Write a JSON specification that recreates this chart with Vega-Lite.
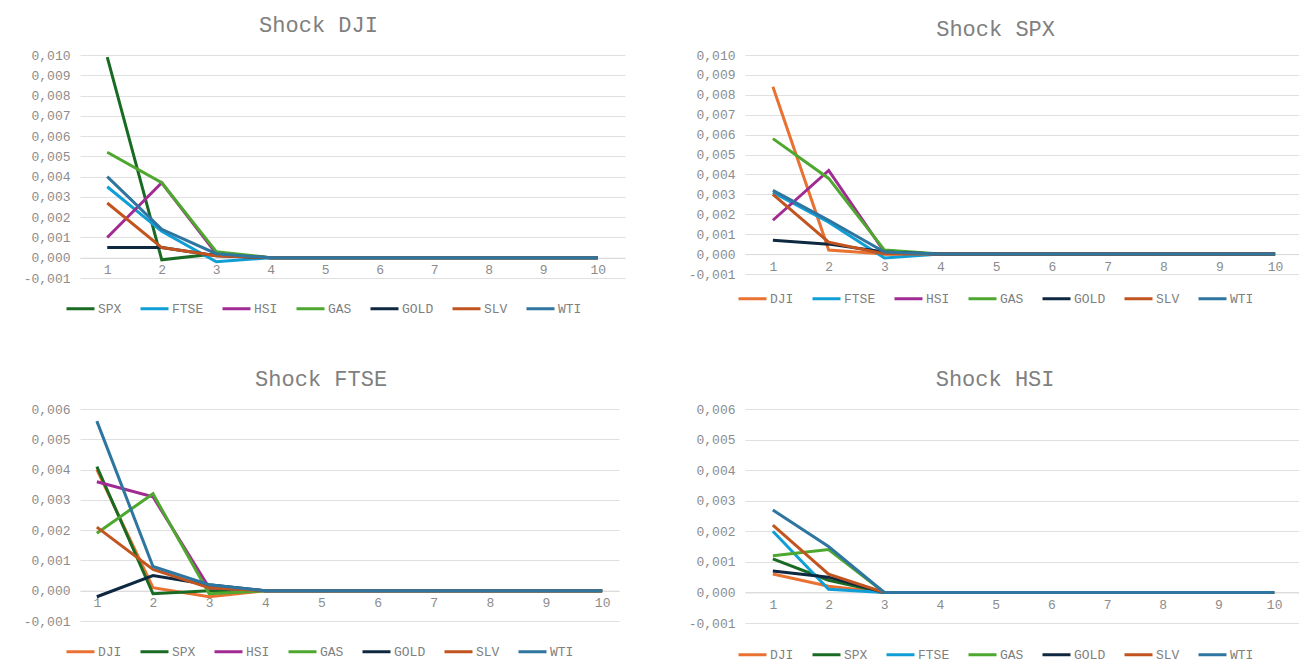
{
  "$schema": "https://vega.github.io/schema/vega-lite/v6.json",
  "background": "white",
  "padding": {"left": 12, "top": 14, "right": 0, "bottom": 0},
  "datasets": {
    "irf": [
      {"p":"DJI","s":"SPX","t":1,"v":0.0099},{"p":"DJI","s":"SPX","t":2,"v":-0.0001},{"p":"DJI","s":"SPX","t":3,"v":0.0002},{"p":"DJI","s":"SPX","t":4,"v":0},{"p":"DJI","s":"SPX","t":5,"v":0},{"p":"DJI","s":"SPX","t":6,"v":0},{"p":"DJI","s":"SPX","t":7,"v":0},{"p":"DJI","s":"SPX","t":8,"v":0},{"p":"DJI","s":"SPX","t":9,"v":0},{"p":"DJI","s":"SPX","t":10,"v":0},
      {"p":"DJI","s":"FTSE","t":1,"v":0.0035},{"p":"DJI","s":"FTSE","t":2,"v":0.0013},{"p":"DJI","s":"FTSE","t":3,"v":-0.0002},{"p":"DJI","s":"FTSE","t":4,"v":0},{"p":"DJI","s":"FTSE","t":5,"v":0},{"p":"DJI","s":"FTSE","t":6,"v":0},{"p":"DJI","s":"FTSE","t":7,"v":0},{"p":"DJI","s":"FTSE","t":8,"v":0},{"p":"DJI","s":"FTSE","t":9,"v":0},{"p":"DJI","s":"FTSE","t":10,"v":0},
      {"p":"DJI","s":"HSI","t":1,"v":0.0010},{"p":"DJI","s":"HSI","t":2,"v":0.0037},{"p":"DJI","s":"HSI","t":3,"v":0.0002},{"p":"DJI","s":"HSI","t":4,"v":0},{"p":"DJI","s":"HSI","t":5,"v":0},{"p":"DJI","s":"HSI","t":6,"v":0},{"p":"DJI","s":"HSI","t":7,"v":0},{"p":"DJI","s":"HSI","t":8,"v":0},{"p":"DJI","s":"HSI","t":9,"v":0},{"p":"DJI","s":"HSI","t":10,"v":0},
      {"p":"DJI","s":"GAS","t":1,"v":0.0052},{"p":"DJI","s":"GAS","t":2,"v":0.0037},{"p":"DJI","s":"GAS","t":3,"v":0.0003},{"p":"DJI","s":"GAS","t":4,"v":0},{"p":"DJI","s":"GAS","t":5,"v":0},{"p":"DJI","s":"GAS","t":6,"v":0},{"p":"DJI","s":"GAS","t":7,"v":0},{"p":"DJI","s":"GAS","t":8,"v":0},{"p":"DJI","s":"GAS","t":9,"v":0},{"p":"DJI","s":"GAS","t":10,"v":0},
      {"p":"DJI","s":"GOLD","t":1,"v":0.0005},{"p":"DJI","s":"GOLD","t":2,"v":0.0005},{"p":"DJI","s":"GOLD","t":3,"v":0.0001},{"p":"DJI","s":"GOLD","t":4,"v":0},{"p":"DJI","s":"GOLD","t":5,"v":0},{"p":"DJI","s":"GOLD","t":6,"v":0},{"p":"DJI","s":"GOLD","t":7,"v":0},{"p":"DJI","s":"GOLD","t":8,"v":0},{"p":"DJI","s":"GOLD","t":9,"v":0},{"p":"DJI","s":"GOLD","t":10,"v":0},
      {"p":"DJI","s":"SLV","t":1,"v":0.0027},{"p":"DJI","s":"SLV","t":2,"v":0.0005},{"p":"DJI","s":"SLV","t":3,"v":0.0001},{"p":"DJI","s":"SLV","t":4,"v":0},{"p":"DJI","s":"SLV","t":5,"v":0},{"p":"DJI","s":"SLV","t":6,"v":0},{"p":"DJI","s":"SLV","t":7,"v":0},{"p":"DJI","s":"SLV","t":8,"v":0},{"p":"DJI","s":"SLV","t":9,"v":0},{"p":"DJI","s":"SLV","t":10,"v":0},
      {"p":"DJI","s":"WTI","t":1,"v":0.0040},{"p":"DJI","s":"WTI","t":2,"v":0.0014},{"p":"DJI","s":"WTI","t":3,"v":0.0002},{"p":"DJI","s":"WTI","t":4,"v":0},{"p":"DJI","s":"WTI","t":5,"v":0},{"p":"DJI","s":"WTI","t":6,"v":0},{"p":"DJI","s":"WTI","t":7,"v":0},{"p":"DJI","s":"WTI","t":8,"v":0},{"p":"DJI","s":"WTI","t":9,"v":0},{"p":"DJI","s":"WTI","t":10,"v":0},

      {"p":"SPX","s":"DJI","t":1,"v":0.0084},{"p":"SPX","s":"DJI","t":2,"v":0.0002},{"p":"SPX","s":"DJI","t":3,"v":0.0000},{"p":"SPX","s":"DJI","t":4,"v":0},{"p":"SPX","s":"DJI","t":5,"v":0},{"p":"SPX","s":"DJI","t":6,"v":0},{"p":"SPX","s":"DJI","t":7,"v":0},{"p":"SPX","s":"DJI","t":8,"v":0},{"p":"SPX","s":"DJI","t":9,"v":0},{"p":"SPX","s":"DJI","t":10,"v":0},
      {"p":"SPX","s":"FTSE","t":1,"v":0.0031},{"p":"SPX","s":"FTSE","t":2,"v":0.0016},{"p":"SPX","s":"FTSE","t":3,"v":-0.0002},{"p":"SPX","s":"FTSE","t":4,"v":0},{"p":"SPX","s":"FTSE","t":5,"v":0},{"p":"SPX","s":"FTSE","t":6,"v":0},{"p":"SPX","s":"FTSE","t":7,"v":0},{"p":"SPX","s":"FTSE","t":8,"v":0},{"p":"SPX","s":"FTSE","t":9,"v":0},{"p":"SPX","s":"FTSE","t":10,"v":0},
      {"p":"SPX","s":"HSI","t":1,"v":0.0017},{"p":"SPX","s":"HSI","t":2,"v":0.0042},{"p":"SPX","s":"HSI","t":3,"v":0.0001},{"p":"SPX","s":"HSI","t":4,"v":0},{"p":"SPX","s":"HSI","t":5,"v":0},{"p":"SPX","s":"HSI","t":6,"v":0},{"p":"SPX","s":"HSI","t":7,"v":0},{"p":"SPX","s":"HSI","t":8,"v":0},{"p":"SPX","s":"HSI","t":9,"v":0},{"p":"SPX","s":"HSI","t":10,"v":0},
      {"p":"SPX","s":"GAS","t":1,"v":0.0058},{"p":"SPX","s":"GAS","t":2,"v":0.0038},{"p":"SPX","s":"GAS","t":3,"v":0.0002},{"p":"SPX","s":"GAS","t":4,"v":0},{"p":"SPX","s":"GAS","t":5,"v":0},{"p":"SPX","s":"GAS","t":6,"v":0},{"p":"SPX","s":"GAS","t":7,"v":0},{"p":"SPX","s":"GAS","t":8,"v":0},{"p":"SPX","s":"GAS","t":9,"v":0},{"p":"SPX","s":"GAS","t":10,"v":0},
      {"p":"SPX","s":"GOLD","t":1,"v":0.0007},{"p":"SPX","s":"GOLD","t":2,"v":0.0005},{"p":"SPX","s":"GOLD","t":3,"v":0.0001},{"p":"SPX","s":"GOLD","t":4,"v":0},{"p":"SPX","s":"GOLD","t":5,"v":0},{"p":"SPX","s":"GOLD","t":6,"v":0},{"p":"SPX","s":"GOLD","t":7,"v":0},{"p":"SPX","s":"GOLD","t":8,"v":0},{"p":"SPX","s":"GOLD","t":9,"v":0},{"p":"SPX","s":"GOLD","t":10,"v":0},
      {"p":"SPX","s":"SLV","t":1,"v":0.0030},{"p":"SPX","s":"SLV","t":2,"v":0.0006},{"p":"SPX","s":"SLV","t":3,"v":0.0000},{"p":"SPX","s":"SLV","t":4,"v":0},{"p":"SPX","s":"SLV","t":5,"v":0},{"p":"SPX","s":"SLV","t":6,"v":0},{"p":"SPX","s":"SLV","t":7,"v":0},{"p":"SPX","s":"SLV","t":8,"v":0},{"p":"SPX","s":"SLV","t":9,"v":0},{"p":"SPX","s":"SLV","t":10,"v":0},
      {"p":"SPX","s":"WTI","t":1,"v":0.0032},{"p":"SPX","s":"WTI","t":2,"v":0.0017},{"p":"SPX","s":"WTI","t":3,"v":0.0001},{"p":"SPX","s":"WTI","t":4,"v":0},{"p":"SPX","s":"WTI","t":5,"v":0},{"p":"SPX","s":"WTI","t":6,"v":0},{"p":"SPX","s":"WTI","t":7,"v":0},{"p":"SPX","s":"WTI","t":8,"v":0},{"p":"SPX","s":"WTI","t":9,"v":0},{"p":"SPX","s":"WTI","t":10,"v":0},

      {"p":"FTSE","s":"DJI","t":1,"v":0.0040},{"p":"FTSE","s":"DJI","t":2,"v":0.0001},{"p":"FTSE","s":"DJI","t":3,"v":-0.0002},{"p":"FTSE","s":"DJI","t":4,"v":0},{"p":"FTSE","s":"DJI","t":5,"v":0},{"p":"FTSE","s":"DJI","t":6,"v":0},{"p":"FTSE","s":"DJI","t":7,"v":0},{"p":"FTSE","s":"DJI","t":8,"v":0},{"p":"FTSE","s":"DJI","t":9,"v":0},{"p":"FTSE","s":"DJI","t":10,"v":0},
      {"p":"FTSE","s":"SPX","t":1,"v":0.0041},{"p":"FTSE","s":"SPX","t":2,"v":-0.0001},{"p":"FTSE","s":"SPX","t":3,"v":0.0000},{"p":"FTSE","s":"SPX","t":4,"v":0},{"p":"FTSE","s":"SPX","t":5,"v":0},{"p":"FTSE","s":"SPX","t":6,"v":0},{"p":"FTSE","s":"SPX","t":7,"v":0},{"p":"FTSE","s":"SPX","t":8,"v":0},{"p":"FTSE","s":"SPX","t":9,"v":0},{"p":"FTSE","s":"SPX","t":10,"v":0},
      {"p":"FTSE","s":"HSI","t":1,"v":0.0036},{"p":"FTSE","s":"HSI","t":2,"v":0.0031},{"p":"FTSE","s":"HSI","t":3,"v":0.0001},{"p":"FTSE","s":"HSI","t":4,"v":0},{"p":"FTSE","s":"HSI","t":5,"v":0},{"p":"FTSE","s":"HSI","t":6,"v":0},{"p":"FTSE","s":"HSI","t":7,"v":0},{"p":"FTSE","s":"HSI","t":8,"v":0},{"p":"FTSE","s":"HSI","t":9,"v":0},{"p":"FTSE","s":"HSI","t":10,"v":0},
      {"p":"FTSE","s":"GAS","t":1,"v":0.0019},{"p":"FTSE","s":"GAS","t":2,"v":0.0032},{"p":"FTSE","s":"GAS","t":3,"v":-0.0001},{"p":"FTSE","s":"GAS","t":4,"v":0},{"p":"FTSE","s":"GAS","t":5,"v":0},{"p":"FTSE","s":"GAS","t":6,"v":0},{"p":"FTSE","s":"GAS","t":7,"v":0},{"p":"FTSE","s":"GAS","t":8,"v":0},{"p":"FTSE","s":"GAS","t":9,"v":0},{"p":"FTSE","s":"GAS","t":10,"v":0},
      {"p":"FTSE","s":"GOLD","t":1,"v":-0.0002},{"p":"FTSE","s":"GOLD","t":2,"v":0.0005},{"p":"FTSE","s":"GOLD","t":3,"v":0.0002},{"p":"FTSE","s":"GOLD","t":4,"v":0},{"p":"FTSE","s":"GOLD","t":5,"v":0},{"p":"FTSE","s":"GOLD","t":6,"v":0},{"p":"FTSE","s":"GOLD","t":7,"v":0},{"p":"FTSE","s":"GOLD","t":8,"v":0},{"p":"FTSE","s":"GOLD","t":9,"v":0},{"p":"FTSE","s":"GOLD","t":10,"v":0},
      {"p":"FTSE","s":"SLV","t":1,"v":0.0021},{"p":"FTSE","s":"SLV","t":2,"v":0.0007},{"p":"FTSE","s":"SLV","t":3,"v":0.0001},{"p":"FTSE","s":"SLV","t":4,"v":0},{"p":"FTSE","s":"SLV","t":5,"v":0},{"p":"FTSE","s":"SLV","t":6,"v":0},{"p":"FTSE","s":"SLV","t":7,"v":0},{"p":"FTSE","s":"SLV","t":8,"v":0},{"p":"FTSE","s":"SLV","t":9,"v":0},{"p":"FTSE","s":"SLV","t":10,"v":0},
      {"p":"FTSE","s":"WTI","t":1,"v":0.0056},{"p":"FTSE","s":"WTI","t":2,"v":0.0008},{"p":"FTSE","s":"WTI","t":3,"v":0.0002},{"p":"FTSE","s":"WTI","t":4,"v":0},{"p":"FTSE","s":"WTI","t":5,"v":0},{"p":"FTSE","s":"WTI","t":6,"v":0},{"p":"FTSE","s":"WTI","t":7,"v":0},{"p":"FTSE","s":"WTI","t":8,"v":0},{"p":"FTSE","s":"WTI","t":9,"v":0},{"p":"FTSE","s":"WTI","t":10,"v":0},

      {"p":"HSI","s":"DJI","t":1,"v":0.0006},{"p":"HSI","s":"DJI","t":2,"v":0.0002},{"p":"HSI","s":"DJI","t":3,"v":0.0000},{"p":"HSI","s":"DJI","t":4,"v":0},{"p":"HSI","s":"DJI","t":5,"v":0},{"p":"HSI","s":"DJI","t":6,"v":0},{"p":"HSI","s":"DJI","t":7,"v":0},{"p":"HSI","s":"DJI","t":8,"v":0},{"p":"HSI","s":"DJI","t":9,"v":0},{"p":"HSI","s":"DJI","t":10,"v":0},
      {"p":"HSI","s":"SPX","t":1,"v":0.0011},{"p":"HSI","s":"SPX","t":2,"v":0.0004},{"p":"HSI","s":"SPX","t":3,"v":0.0000},{"p":"HSI","s":"SPX","t":4,"v":0},{"p":"HSI","s":"SPX","t":5,"v":0},{"p":"HSI","s":"SPX","t":6,"v":0},{"p":"HSI","s":"SPX","t":7,"v":0},{"p":"HSI","s":"SPX","t":8,"v":0},{"p":"HSI","s":"SPX","t":9,"v":0},{"p":"HSI","s":"SPX","t":10,"v":0},
      {"p":"HSI","s":"FTSE","t":1,"v":0.0020},{"p":"HSI","s":"FTSE","t":2,"v":0.0001},{"p":"HSI","s":"FTSE","t":3,"v":0.0000},{"p":"HSI","s":"FTSE","t":4,"v":0},{"p":"HSI","s":"FTSE","t":5,"v":0},{"p":"HSI","s":"FTSE","t":6,"v":0},{"p":"HSI","s":"FTSE","t":7,"v":0},{"p":"HSI","s":"FTSE","t":8,"v":0},{"p":"HSI","s":"FTSE","t":9,"v":0},{"p":"HSI","s":"FTSE","t":10,"v":0},
      {"p":"HSI","s":"GAS","t":1,"v":0.0012},{"p":"HSI","s":"GAS","t":2,"v":0.0014},{"p":"HSI","s":"GAS","t":3,"v":0.0000},{"p":"HSI","s":"GAS","t":4,"v":0},{"p":"HSI","s":"GAS","t":5,"v":0},{"p":"HSI","s":"GAS","t":6,"v":0},{"p":"HSI","s":"GAS","t":7,"v":0},{"p":"HSI","s":"GAS","t":8,"v":0},{"p":"HSI","s":"GAS","t":9,"v":0},{"p":"HSI","s":"GAS","t":10,"v":0},
      {"p":"HSI","s":"GOLD","t":1,"v":0.0007},{"p":"HSI","s":"GOLD","t":2,"v":0.0005},{"p":"HSI","s":"GOLD","t":3,"v":0.0000},{"p":"HSI","s":"GOLD","t":4,"v":0},{"p":"HSI","s":"GOLD","t":5,"v":0},{"p":"HSI","s":"GOLD","t":6,"v":0},{"p":"HSI","s":"GOLD","t":7,"v":0},{"p":"HSI","s":"GOLD","t":8,"v":0},{"p":"HSI","s":"GOLD","t":9,"v":0},{"p":"HSI","s":"GOLD","t":10,"v":0},
      {"p":"HSI","s":"SLV","t":1,"v":0.0022},{"p":"HSI","s":"SLV","t":2,"v":0.0006},{"p":"HSI","s":"SLV","t":3,"v":0.0000},{"p":"HSI","s":"SLV","t":4,"v":0},{"p":"HSI","s":"SLV","t":5,"v":0},{"p":"HSI","s":"SLV","t":6,"v":0},{"p":"HSI","s":"SLV","t":7,"v":0},{"p":"HSI","s":"SLV","t":8,"v":0},{"p":"HSI","s":"SLV","t":9,"v":0},{"p":"HSI","s":"SLV","t":10,"v":0},
      {"p":"HSI","s":"WTI","t":1,"v":0.0027},{"p":"HSI","s":"WTI","t":2,"v":0.0015},{"p":"HSI","s":"WTI","t":3,"v":0.0000},{"p":"HSI","s":"WTI","t":4,"v":0},{"p":"HSI","s":"WTI","t":5,"v":0},{"p":"HSI","s":"WTI","t":6,"v":0},{"p":"HSI","s":"WTI","t":7,"v":0},{"p":"HSI","s":"WTI","t":8,"v":0},{"p":"HSI","s":"WTI","t":9,"v":0},{"p":"HSI","s":"WTI","t":10,"v":0}
    ]
  },
  "data": {"name": "irf"},
  "columns": 2,
  "align": {"row": "each", "column": "none"},
  "spacing": {"row": 52, "column": 63},
  "concat": [
    {
      "width": 545, "height": 223,
      "title": {"text": "Shock DJI", "offset": 12},
      "transform": [{"filter": "datum.p === 'DJI'"}],
      "mark": {"type": "line", "strokeWidth": 3},
      "encoding": {
        "x": {"field": "t", "type": "ordinal", "scale": {"type": "point", "padding": 0.5}, "axis": {"offset": -20.27}},
        "y": {"field": "v", "type": "quantitative", "scale": {"domain": [-0.001, 0.010], "nice": false, "zero": false},
              "axis": {"values": [-0.001, 0, 0.001, 0.002, 0.003, 0.004, 0.005, 0.006, 0.007, 0.008, 0.009, 0.010], "minExtent": 68}},
        "color": {"field": "s", "type": "nominal",
                  "scale": {"domain": ["SPX", "FTSE", "HSI", "GAS", "GOLD", "SLV", "WTI"],
                            "range": ["#196B24", "#0F9ED5", "#A02B93", "#4EA72E", "#0E2841", "#C2541F", "#2E75A0"]},
                  "legend": {"orient": "none", "legendX": -15, "legendY": 238}}
      }
    },
    {
      "width": 558, "height": 219,
      "title": {"text": "Shock SPX", "offset": 8},
      "transform": [{"filter": "datum.p === 'SPX'"}],
      "mark": {"type": "line", "strokeWidth": 3},
      "encoding": {
        "x": {"field": "t", "type": "ordinal", "scale": {"type": "point", "padding": 0.5}, "axis": {"offset": -19.9}},
        "y": {"field": "v", "type": "quantitative", "scale": {"domain": [-0.001, 0.010], "nice": false, "zero": false},
              "axis": {"values": [-0.001, 0, 0.001, 0.002, 0.003, 0.004, 0.005, 0.006, 0.007, 0.008, 0.009, 0.010]}},
        "color": {"field": "s", "type": "nominal",
                  "scale": {"domain": ["DJI", "FTSE", "HSI", "GAS", "GOLD", "SLV", "WTI"],
                            "range": ["#E97132", "#0F9ED5", "#A02B93", "#4EA72E", "#0E2841", "#C2541F", "#2E75A0"]},
                  "legend": {"orient": "none", "legendX": -8, "legendY": 228}}
      }
    },
    {
      "width": 539, "height": 212,
      "title": {"text": "Shock FTSE", "offset": 12},
      "transform": [{"filter": "datum.p === 'FTSE'"}],
      "mark": {"type": "line", "strokeWidth": 3},
      "encoding": {
        "x": {"field": "t", "type": "ordinal", "scale": {"type": "point", "padding": 0.3}, "axis": {"offset": -30.3}},
        "y": {"field": "v", "type": "quantitative", "scale": {"domain": [-0.001, 0.006], "nice": false, "zero": false},
              "axis": {"values": [-0.001, 0, 0.001, 0.002, 0.003, 0.004, 0.005, 0.006]}},
        "color": {"field": "s", "type": "nominal",
                  "scale": {"domain": ["DJI", "SPX", "HSI", "GAS", "GOLD", "SLV", "WTI"],
                            "range": ["#E97132", "#196B24", "#A02B93", "#4EA72E", "#0E2841", "#C2541F", "#2E75A0"]},
                  "legend": {"orient": "none", "legendX": -15, "legendY": 227}}
      }
    },
    {
      "width": 557, "height": 214,
      "title": {"text": "Shock HSI", "offset": 12},
      "transform": [{"filter": "datum.p === 'HSI'"}],
      "mark": {"type": "line", "strokeWidth": 3},
      "encoding": {
        "x": {"field": "t", "type": "ordinal", "scale": {"type": "point", "padding": 0.5}, "axis": {"offset": -30.57}},
        "y": {"field": "v", "type": "quantitative", "scale": {"domain": [-0.001, 0.006], "nice": false, "zero": false},
              "axis": {"values": [-0.001, 0, 0.001, 0.002, 0.003, 0.004, 0.005, 0.006]}},
        "color": {"field": "s", "type": "nominal",
                  "scale": {"domain": ["DJI", "SPX", "FTSE", "GAS", "GOLD", "SLV", "WTI"],
                            "range": ["#E97132", "#196B24", "#0F9ED5", "#4EA72E", "#0E2841", "#C2541F", "#2E75A0"]},
                  "legend": {"orient": "none", "legendX": -8, "legendY": 230}}
      }
    }
  ],
  "resolve": {"scale": {"color": "independent"}, "legend": {"color": "independent"}},
  "config": {
    "locale": {"number": {"decimal": ",", "thousands": ".", "grouping": [3], "currency": ["", " €"], "minus": "-"}},
    "font": "Liberation Mono",
    "view": {"stroke": null},
    "title": {"font": "Liberation Mono", "fontSize": 22, "fontWeight": "normal", "color": "#808080", "frame": "bounds", "anchor": "middle"},
    "axisX": {"title": null, "labelAngle": 0, "ticks": false, "grid": false, "domain": true, "domainColor": "#d9d9d9", "domainWidth": 1,
              "labelFont": "Liberation Mono", "labelFontSize": 13, "labelColor": "#8c8c8c", "labelPadding": 6},
    "axisY": {"title": null, "ticks": false, "domain": false, "grid": true, "gridColor": "#e0e0e0", "gridWidth": 1,
              "format": ".3f", "labelFont": "Liberation Mono", "labelFontSize": 13, "labelColor": "#8c8c8c", "labelPadding": 10},
    "legend": {"title": null, "direction": "horizontal", "columns": 7, "symbolType": "stroke", "symbolSize": 784, "symbolStrokeWidth": 3,
               "labelFont": "Liberation Mono", "labelFontSize": 13, "labelColor": "#7f7f7f", "labelOffset": 2, "columnPadding": 12}
  }
}
